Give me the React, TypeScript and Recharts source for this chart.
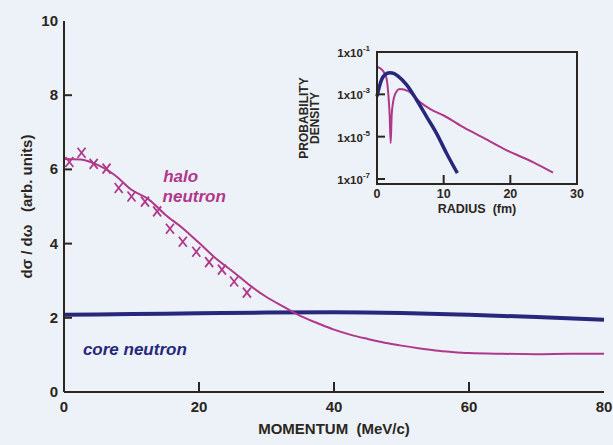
import {
  LineChart,
  Line,
  XAxis,
  YAxis,
  ReferenceArea,
  ReferenceDot,
} from "recharts";

// momentum distribution (MeV/c vs arb. units)
const haloMomentum = [0, 2.5, 5, 7.5, 10, 12.5, 15, 17.5, 20, 22.5, 25, 27.5, 30, 32.5, 35, 37.5, 40, 42.5, 45, 47.5, 50, 52.5, 55, 57.5, 60, 65, 70, 75, 80];
const haloCurve = [6.28, 6.27, 6.12, 5.85, 5.45, 5.2, 4.78, 4.43, 4.02, 3.6, 3.25, 2.88, 2.56, 2.3, 2.05, 1.86, 1.68, 1.54, 1.43, 1.33, 1.25, 1.18, 1.12, 1.08, 1.05, 1.03, 1.02, 1.03, 1.03];

const coreMomentum = [0, 10, 20, 30, 40, 50, 60, 70, 80];
const coreCurve = [2.08, 2.1, 2.12, 2.14, 2.15, 2.13, 2.08, 2.02, 1.95];

const measuredMomentum = [0.8, 2.6, 4.4, 6.3, 8.1, 10, 12, 13.8, 15.7, 17.6, 19.6, 21.5, 23.4, 25.2, 27.1];
const measuredValue = [6.2, 6.45, 6.15, 6.02, 5.5, 5.27, 5.13, 4.87, 4.4, 4.05, 3.78, 3.5, 3.3, 2.98, 2.68];

const momentumTicks = [0, 20, 40, 60, 80];
const sigmaTicks = [0, 2, 4, 6, 8, 10];

// radial wave functions for the inset (fm vs probability density)
const haloRadius = [0, 0.8, 1.4, 1.7, 1.9, 2.05, 2.2, 2.4, 2.7, 3.4, 4.7, 6.4, 8, 10, 13.2, 16, 19.4, 23.4, 26.4];
const haloDensity = [2e-2, 1.4e-2, 6e-3, 1e-3, 1e-4, 5e-6, 1e-4, 4e-4, 1e-3, 1.8e-3, 1.4e-3, 4.4e-4, 2e-4, 1e-4, 2.5e-5, 8.7e-6, 2.3e-6, 6.3e-7, 2e-7];

const coreRadius = [0, 0.3, 0.7, 1.2, 1.9, 2.6, 3.2, 4.45, 5.95, 7.45, 8.95, 10.45, 12.05];
const coreDensity = [8e-4, 2e-3, 5e-3, 8.5e-3, 1.05e-2, 9.5e-3, 7e-3, 2.8e-3, 5.4e-4, 8.7e-5, 1.4e-5, 1.6e-6, 1.9e-7];

const radiusTicks = [0, 10, 20, 30];
const densityTicks = [1e-7, 1e-5, 1e-3, 1e-1];

const haloData = haloMomentum.map((m, i) => ({ m, v: haloCurve[i] }));
const coreData = coreMomentum.map((m, i) => ({ m, v: coreCurve[i] }));
const measuredData = measuredMomentum.map((m, i) => ({ m, v: measuredValue[i] }));
const haloInset = haloRadius.map((r, i) => ({ r, p: haloDensity[i] }));
const coreInset = coreRadius.map((r, i) => ({ r, p: coreDensity[i] }));

const DENSITY_MIN = 5.8e-8;

const BG = "#edf2f9";
const INK = "#2b2620";
const HALO = "#b0388a";
const CORE = "#27277c";
const FONT = "'Liberation Sans', Arial, Helvetica, sans-serif";

const MAIN_MARGIN = { top: 21, right: 9, bottom: 0, left: 0 };

function MainYTick({ x, y, payload }: any) {
  const ax = x + 6;
  const v = payload.value;
  return (
    <g>
      {v > 0 && v < 10 && <line x1={ax} x2={ax + 8} y1={y} y2={y} stroke={INK} strokeWidth={2} />}
      <text x={x} y={y} dy={5} textAnchor="end" fill={INK} fontSize={15} fontWeight="bold" fontFamily={FONT}>
        {v}
      </text>
    </g>
  );
}

function MainXTick({ x, y, payload }: any) {
  const ay = y - 8;
  const v = payload.value;
  return (
    <g>
      {v > 0 && v < 80 && <line x1={x} x2={x} y1={ay} y2={ay - 10} stroke={INK} strokeWidth={2} />}
      <text x={x} y={y} dy={12} textAnchor="middle" fill={INK} fontSize={15} fontWeight="bold" fontFamily={FONT}>
        {v}
      </text>
    </g>
  );
}

function InsetYTick({ x, y, payload }: any) {
  const ax = x + 7;
  const exp = Math.round(Math.log10(payload.value));
  return (
    <g>
      {exp < -1 && <line x1={ax} x2={ax + 8} y1={y} y2={y} stroke={INK} strokeWidth={2} />}
      <text x={x} y={y} dy={5} textAnchor="end" fill={INK} fontSize={11.5} fontWeight="bold" fontFamily={FONT}>
        {"1x10"}
        <tspan dy={-6} fontSize={8}>{exp}</tspan>
      </text>
    </g>
  );
}

function InsetXTick({ x, y, payload }: any) {
  const ay = y - 5;
  const v = payload.value;
  return (
    <g>
      {v > 0 && v < 30 && <line x1={x} x2={x} y1={ay} y2={ay - 9} stroke={INK} strokeWidth={2} />}
      <text x={x} y={y} dy={9} textAnchor="middle" fill={INK} fontSize={12.5} fontWeight="bold" fontFamily={FONT}>
        {v}
      </text>
    </g>
  );
}

// measured points drawn as crosses
function Cross({ cx, cy }: any) {
  return (
    <g stroke={HALO} strokeWidth={1.8}>
      <line x1={cx - 4} y1={cy - 5} x2={cx + 4} y2={cy + 5} />
      <line x1={cx + 4} y1={cy - 5} x2={cx - 4} y2={cy + 5} />
    </g>
  );
}

const note = (text: string, color: string) => (p: any) => (
  <text x={p.cx} y={p.cy} fill={color} fontSize={17} fontWeight="bold" fontStyle="italic" fontFamily={FONT}>
    {text}
  </text>
);

export default function App() {
  return (
    <div style={{ position: "absolute", left: 0, top: 0, width: 613, height: 445, background: BG }}>
      <LineChart width={613} height={445} margin={MAIN_MARGIN}>
        <XAxis
          dataKey="m"
          type="number"
          domain={[0, 80]}
          ticks={momentumTicks}
          tick={<MainXTick />}
          tickSize={0}
          tickLine={false}
          tickMargin={8}
          height={53}
          stroke={INK}
          strokeWidth={2}
          allowDuplicatedCategory={false}
          label={(p: any) => (
            <text
              x={p.viewBox.x + p.viewBox.width / 2}
              y={p.viewBox.y + 42}
              textAnchor="middle"
              fill={INK}
              fontSize={15}
              fontWeight="bold"
              fontFamily={FONT}
            >
              {"MOMENTUM\u00a0\u00a0(MeV/c)"}
            </text>
          )}
        />
        <YAxis
          type="number"
          domain={[0, 10]}
          ticks={sigmaTicks}
          tick={<MainYTick />}
          tickSize={0}
          tickLine={false}
          tickMargin={6}
          width={64}
          stroke={INK}
          strokeWidth={2}
          label={(p: any) => {
            const cy = p.viewBox.y + p.viewBox.height / 2;
            return (
              <text
                x={27}
                y={cy}
                transform={`rotate(-90 27 ${cy})`}
                dy={5}
                textAnchor="middle"
                fill={INK}
                fontSize={15}
                fontWeight="bold"
                fontFamily={FONT}
              >
                {"d\u03c3 / d\u03c9\u00a0\u00a0\u00a0(arb. units)"}
              </text>
            );
          }}
        />
        <Line data={coreData} dataKey="v" type="monotone" stroke={CORE} strokeWidth={4} dot={false} isAnimationActive={false} />
        <Line data={haloData} dataKey="v" type="monotone" stroke={HALO} strokeWidth={2} dot={false} isAnimationActive={false} />
        <Line data={measuredData} dataKey="v" stroke="none" dot={<Cross />} activeDot={false} isAnimationActive={false} />
        <ReferenceDot x={14.7} y={5.66} r={0} shape={note("halo", HALO)} />
        <ReferenceDot x={14.6} y={5.12} r={0} shape={note("neutron", HALO)} />
        <ReferenceDot x={2.8} y={1.0} r={0} shape={note("core neutron", CORE)} />
      </LineChart>

      {/* frame layer over the main plot: same size and axes, only the box */}
      <div style={{ position: "absolute", left: 0, top: 0 }}>
        <LineChart width={613} height={445} margin={MAIN_MARGIN}>
          <XAxis type="number" dataKey="m" domain={[0, 80]} height={53} tick={false} axisLine={false} tickLine={false} />
          <YAxis type="number" domain={[0, 10]} width={64} tick={false} axisLine={false} tickLine={false} />
          <ReferenceArea x1={0} x2={80} y1={0} y2={10} fill="none" stroke={INK} strokeWidth={2} />
        </LineChart>
      </div>

      <div style={{ position: "absolute", left: 290, top: 30 }}>
        <LineChart width={300} height={200} margin={{ top: 22, right: 13, bottom: 0, left: 0 }}>
          <XAxis
            dataKey="r"
            type="number"
            domain={[0, 30]}
            ticks={radiusTicks}
            tick={<InsetXTick />}
            tickSize={0}
            tickLine={false}
            tickMargin={5}
            height={46}
            stroke={INK}
            strokeWidth={2}
            allowDuplicatedCategory={false}
            label={(p: any) => (
              <text
                x={p.viewBox.x + p.viewBox.width / 2}
                y={p.viewBox.y + 29}
                textAnchor="middle"
                fill={INK}
                fontSize={12.5}
                fontWeight="bold"
                fontFamily={FONT}
              >
                {"RADIUS\u00a0\u00a0(fm)"}
              </text>
            )}
          />
          <YAxis
            type="number"
            scale="log"
            domain={[DENSITY_MIN, 0.1]}
            allowDataOverflow
            ticks={densityTicks}
            tick={<InsetYTick />}
            tickSize={0}
            tickLine={false}
            tickMargin={7}
            width={87}
            stroke={INK}
            strokeWidth={2}
            label={(p: any) => {
              const cy = p.viewBox.y + p.viewBox.height / 2;
              return (
                <g fill={INK} fontSize={12} fontWeight="bold" fontFamily={FONT} textAnchor="middle">
                  <text x={14} y={cy} dy={4} transform={`rotate(-90 14 ${cy})`}>PROBABILITY</text>
                  <text x={25} y={cy} dy={4} transform={`rotate(-90 25 ${cy})`}>DENSITY</text>
                </g>
              );
            }}
          />
          {/* inset frame */}
          <ReferenceArea x1={0} x2={30} y1={DENSITY_MIN} y2={0.1} fill="none" stroke={INK} strokeWidth={2} />
          <Line data={haloInset} dataKey="p" type="monotone" stroke={HALO} strokeWidth={2} dot={false} isAnimationActive={false} />
          <Line data={coreInset} dataKey="p" type="monotone" stroke={CORE} strokeWidth={3.5} dot={false} isAnimationActive={false} />
        </LineChart>
      </div>
    </div>
  );
}
